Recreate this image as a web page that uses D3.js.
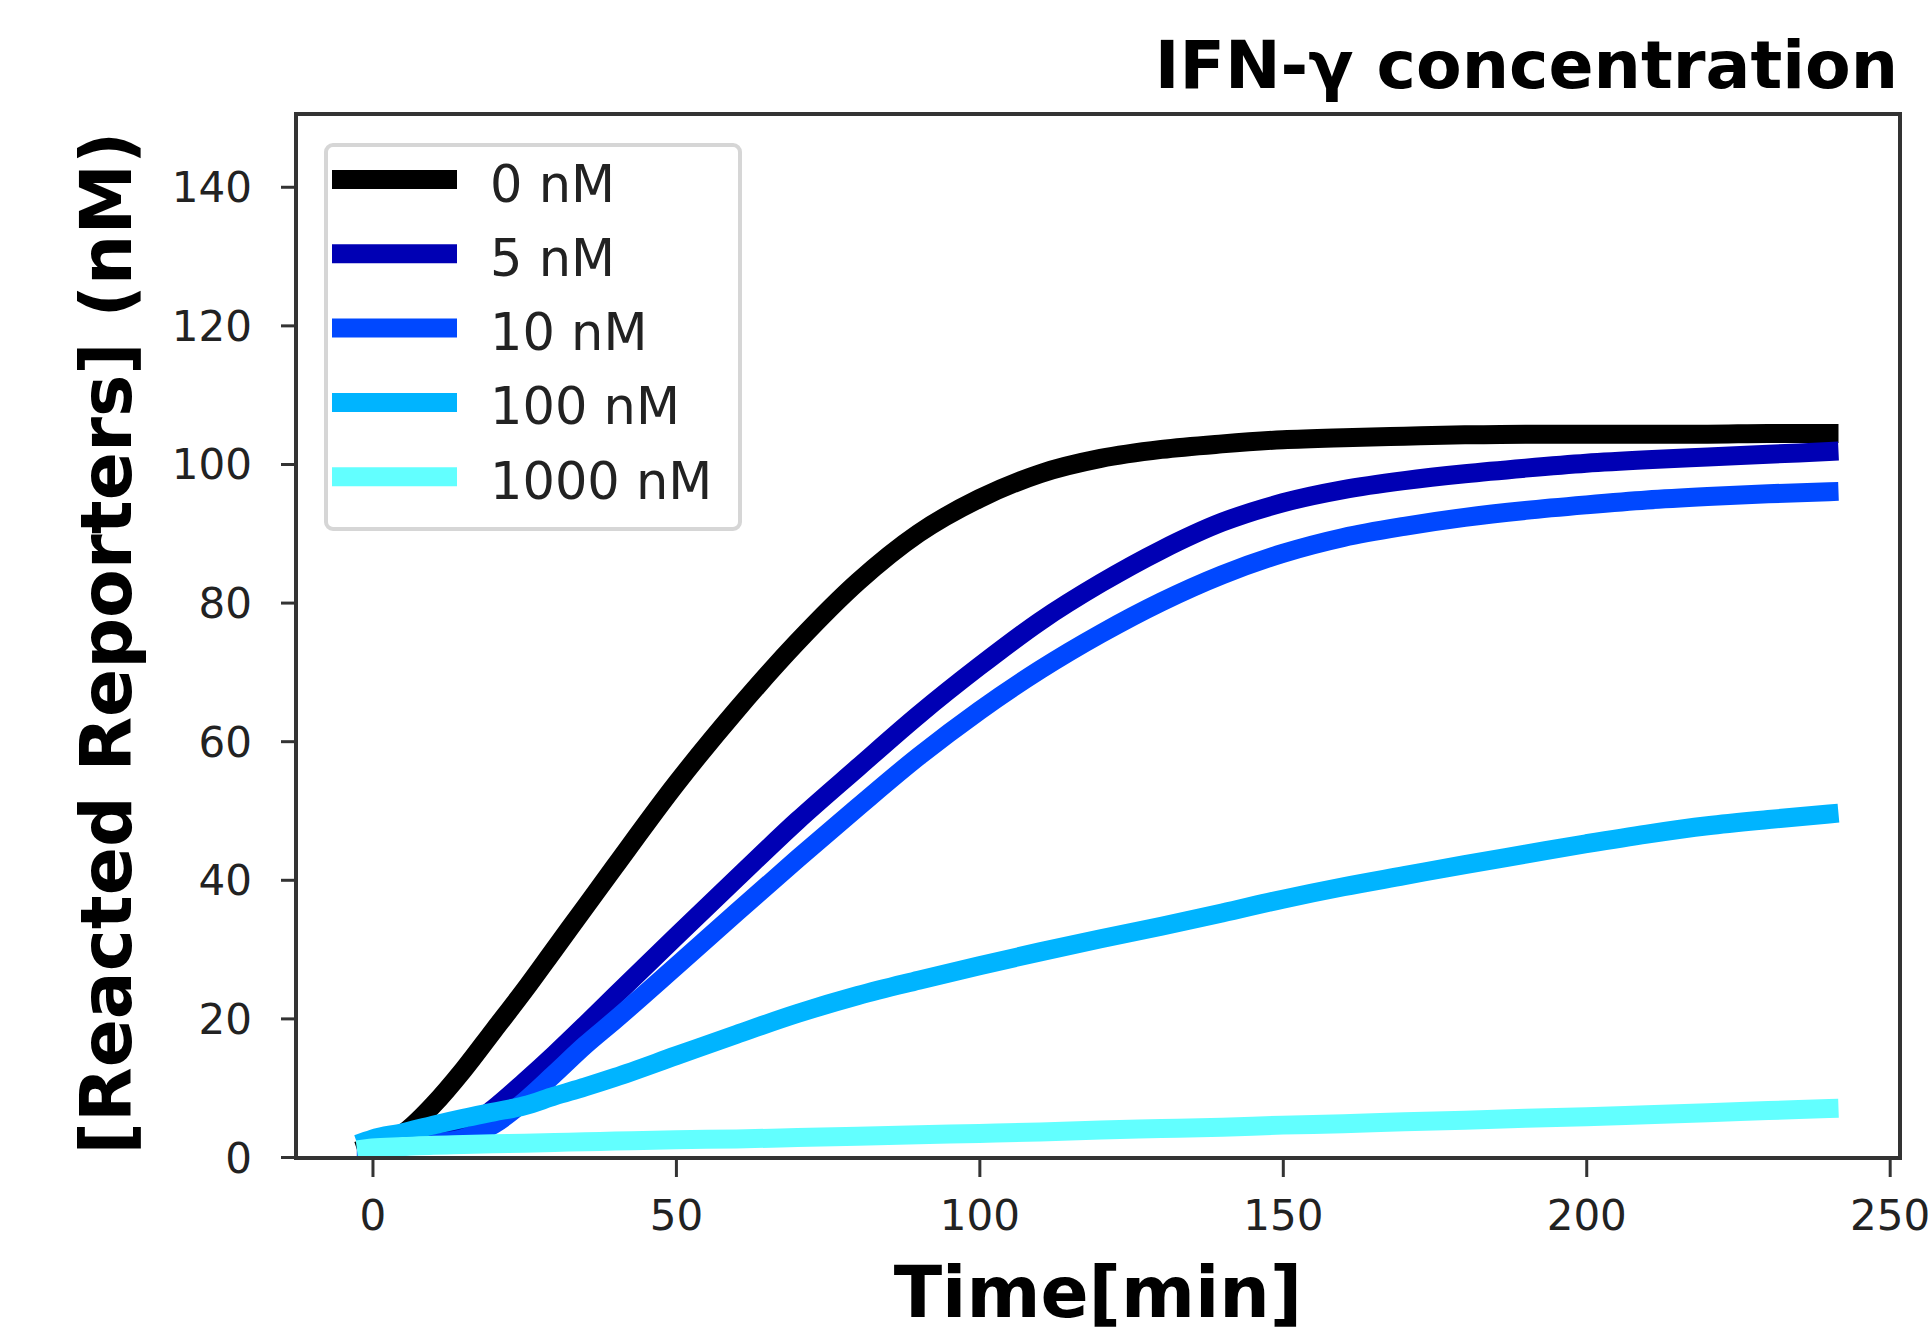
<!DOCTYPE html>
<html>
<head>
<meta charset="utf-8">
<script src="https://cdn.jsdelivr.net/npm/d3@7"></script>
<style>
  html, body { margin: 0; padding: 0; background: #fff; }
  svg { display: block; font-family: "DejaVu Sans", sans-serif; }
</style>
</head>
<body>
<svg id="chart" width="1928" height="1334"></svg>
<script>
// ---- data ----
const times = [-1, 0, 5, 10, 15, 20, 25, 30, 35, 40, 50, 60, 70, 80, 90, 100, 110, 120, 130, 140, 150, 160, 170, 180, 190, 200, 210, 220, 230, 240];
const seriesNames = ["0 nM", "5 nM", "10 nM", "100 nM", "1000 nM"];
const seriesColors = ["#000000", "#0000b4", "#0048ff", "#00b4ff", "#62ffff"];
const values0nM    = [1.3, 1.6, 3.4, 7.5, 12.6, 18.3, 24, 30, 36, 42, 53.8, 64.5, 74.3, 83, 90, 95, 98.6, 100.8, 102.1, 102.9, 103.5, 103.8, 104, 104.2, 104.3, 104.3, 104.3, 104.3, 104.4, 104.4];
const values5nM    = [1.5, 1.5, 1.7, 2.2, 3.8, 7, 10.8, 14.8, 19, 23.3, 31.8, 40.2, 48.5, 56.2, 63.8, 70.8, 77.3, 82.8, 87.6, 91.6, 94.4, 96.3, 97.6, 98.6, 99.4, 100.1, 100.6, 101, 101.4, 101.8];
const values10nM   = [1.5, 1.5, 1.6, 2.0, 2.7, 4.7, 8, 12, 16.1, 19.8, 27.5, 35.3, 43, 50.5, 57.8, 64.4, 70.3, 75.5, 80.1, 84, 87.1, 89.4, 91, 92.3, 93.3, 94.1, 94.8, 95.3, 95.7, 96];
const values100nM  = [2.3, 2.6, 3.5, 4.6, 5.6, 6.5, 7.4, 8.8, 10.1, 11.5, 14.6, 17.7, 20.7, 23.3, 25.5, 27.6, 29.6, 31.5, 33.3, 35.2, 37.2, 39, 40.6, 42.2, 43.7, 45.2, 46.6, 47.8, 48.7, 49.5];
const values1000nM = [1.2, 1.3, 1.5, 1.7, 1.8, 1.9, 2.0, 2.1, 2.2, 2.3, 2.5, 2.6, 2.8, 3.0, 3.2, 3.4, 3.6, 3.9, 4.1, 4.3, 4.6, 4.8, 5.1, 5.3, 5.6, 5.8, 6.1, 6.4, 6.7, 7.0];
const seriesValues = [values0nM, values5nM, values10nM, values100nM, values1000nM];
const xTicks = [0, 50, 100, 150, 200, 250];
const yTicks = [0, 20, 40, 60, 80, 100, 120, 140];
const titleText = "IFN-γ concentration";
const xLabel = "Time[min]";
const yLabel = "[Reacted Reporters] (nM)";

// ---- layout ----
const L = 296, R = 1900, T = 114, B = 1158;
const svg = d3.select("#chart");

const x = d3.scaleLinear().domain([-12.6, 251.7]).range([L, R]);
const y = d3.scaleLinear().domain([0, 150.5]).range([1157, T]);

svg.append("defs").append("clipPath").attr("id", "plotclip")
  .append("rect").attr("x", L).attr("y", T).attr("width", R - L).attr("height", B - T);

// lines
const line = d3.line()
  .x((d, i) => x(times[i]))
  .y(d => y(d))
  .curve(d3.curveMonotoneX);

const lines = svg.append("g").attr("clip-path", "url(#plotclip)");
seriesValues.forEach((vals, k) => {
  lines.append("path")
    .attr("d", line(vals))
    .attr("fill", "none")
    .attr("stroke", seriesColors[k])
    .attr("stroke-width", 19)
    .attr("stroke-linecap", "square")
    .attr("stroke-linejoin", "round");
});

// axes
const xAxis = d3.axisBottom(x).tickValues(xTicks).tickSize(19).tickPadding(0).tickFormat(d3.format("d"));
const gx = svg.append("g").attr("transform", `translate(0,${B})`).call(xAxis);
gx.select(".domain").remove();
gx.selectAll(".tick line").attr("stroke", "#333").attr("stroke-width", 3);
gx.selectAll(".tick text").attr("y", 72).attr("dy", null)
  .attr("font-size", 42).attr("fill", "#222").attr("font-family", "DejaVu Sans");

const yAxis = d3.axisLeft(y).tickValues(yTicks).tickSize(15).tickPadding(0).tickFormat(d3.format("d"));
const gy = svg.append("g").attr("transform", `translate(${L},0)`).call(yAxis);
gy.select(".domain").remove();
gy.selectAll(".tick line").attr("stroke", "#333").attr("stroke-width", 3);
gy.selectAll(".tick text").attr("x", -44).attr("dy", 15)
  .attr("font-size", 42).attr("fill", "#222").attr("font-family", "DejaVu Sans");

// frame
svg.append("rect").attr("x", L).attr("y", T).attr("width", R - L).attr("height", B - T)
  .attr("fill", "none").attr("stroke", "#333").attr("stroke-width", 4);

// title and labels
svg.append("text").attr("x", 1898).attr("y", 88).attr("text-anchor", "end")
  .attr("font-size", 66.5).attr("font-weight", "bold").attr("fill", "#000").text(titleText);
svg.append("text").attr("x", 1098).attr("y", 1317).attr("text-anchor", "middle")
  .attr("font-size", 71).attr("font-weight", "bold").attr("fill", "#000").text(xLabel);
svg.append("text").attr("transform", "translate(131,643) rotate(-90)").attr("text-anchor", "middle")
  .attr("font-size", 71).attr("font-weight", "bold").attr("fill", "#000").text(yLabel);

// legend
const lg = svg.append("g");
lg.append("rect").attr("x", 326).attr("y", 145).attr("width", 414).attr("height", 384)
  .attr("rx", 7).attr("ry", 7).attr("fill", "#fff").attr("fill-opacity", 0.8)
  .attr("stroke", "#d6d6d6").attr("stroke-width", 4);
seriesNames.forEach((name, k) => {
  const cy = 179.5 + k * 74.3;
  lg.append("line").attr("x1", 332).attr("x2", 457).attr("y1", cy).attr("y2", cy)
    .attr("stroke", seriesColors[k]).attr("stroke-width", 19);
  lg.append("text").attr("x", 490).attr("y", cy + 22).attr("font-size", 51)
    .attr("fill", "#222").text(name);
});
</script>
</body>
</html>
